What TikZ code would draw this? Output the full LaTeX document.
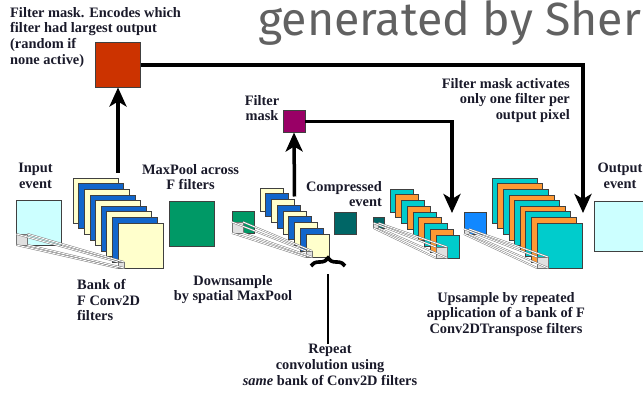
\documentclass[tikz,border=0pt]{standalone}
\usepackage{fontspec}
\newfontfamily\markfont{Fira Sans}
\newfontfamily\lblfont{Liberation Serif}
\usetikzlibrary{positioning,arrows.meta,decorations.pathreplacing}

\definecolor{maskred}{HTML}{CC3300}
\definecolor{maskpurple}{HTML}{990066}
\definecolor{eventcyan}{HTML}{CCFFFF}
\definecolor{filtyellow}{HTML}{FFFFCC}
\definecolor{filtblue}{HTML}{1166CC}
\definecolor{poolgreen}{HTML}{009966}
\definecolor{codeteal}{HTML}{006666}
\definecolor{filtteal}{HTML}{00CCCC}
\definecolor{filtorange}{HTML}{FF9933}
\definecolor{upblue}{HTML}{1188FF}
\definecolor{txtdark}{HTML}{1A1A2A}

\tikzset{
	sq/.style={draw=black!75, line width=0.6pt, minimum size=#1, inner sep=0pt, outer sep=0pt},
	rf/.style={draw=black!55, fill=black!12, line width=0.5pt, minimum size=#1, inner sep=0pt, outer sep=0pt},
	rfline/.style={draw=black!55, double=white, double distance=0.9pt, line width=0.45pt},
	lbl/.style={font=\lblfont\bfseries\fontsize{14.4}{15.8}\selectfont, text=txtdark, inner sep=0pt, align=center},
	bigarrow/.style={line width=3.5pt, -{Stealth[length=19pt,width=17pt,inset=5pt]}},
	moustache/.style={line width=3.6pt, decorate, decoration={brace, amplitude=8pt, aspect=0.5}},
}

\begin{document}
\begin{tikzpicture}[x=1pt, y=-1pt]
	\useasboundingbox (0,0) rectangle (643,393);
	\fill[white] (0,0) rectangle (643,393);
	\clip (0,0) rectangle (643,393);

	\node (mark) at (258,36) [anchor=base west, inner sep=0pt, font=\markfont\fontsize{46.5}{46.5}\selectfont, text=black!62] {generated by Sher};

	% encoder: conv bank, maxpool over filters, spatial maxpool
	\node (mask) at (118,65) [sq=45pt, fill=maskred] {};
	\node (masktxt) at (10,7) [lbl, anchor=north west, align=left] {Filter mask. Encodes which\\filter had largest output\\(random if\\none active)};

	\node (input) at (39,222.5) [sq=45pt, fill=eventcyan] {};
	\node (inputtxt) at (35.5,163) [lbl, anchor=north] {Input\\event};

	\foreach \i/\c in {0/filtyellow,1/filtblue,2/filtyellow,3/filtblue,4/filtyellow,5/filtblue,6/filtyellow,7/filtblue,8/filtyellow}
		\node (bankA-\i) at ({95.5+5.625*\i},{200.5+5.625*\i}) [sq=45pt, fill=\c] {};
	\node (banktxt) at (77,279) [lbl, anchor=north west, align=left] {Bank of\\F Conv2D\\filters};

	\node (rfIn) at (input.south west) [rf=11pt, anchor=south west] {};
	\node (rfA) at (bankA-8.south west) [rf=6pt, anchor=south west] {};
	\foreach \a in {north west,north east,south west,south east}
		\draw[rfline] (rfIn.\a) -- (rfA.\a);

	\node (pool) at (191.5,223.5) [sq=45pt, fill=poolgreen] {};
	\node (pooltxt) at (190.5,164) [lbl, anchor=north] {MaxPool across\\F filters};

	\node (down) at (243,222) [sq=22pt, fill=poolgreen] {};
	\node (downtxt) at (233,275) [lbl, anchor=north] {Downsample\\by spatial MaxPool};

	\foreach \i/\c in {0/filtyellow,1/filtblue,2/filtyellow,3/filtblue,4/filtyellow,5/filtblue,6/filtyellow,7/filtblue,8/filtyellow}
		\node (bankB-\i) at ({271.5+5.75*\i},{199.5+5.75*\i}) [sq=23pt, fill=\c] {};
	\node (rfDown) at (down.south west) [rf=11pt, anchor=south west] {};
	\node (rfB) at (bankB-8.south west) [rf=6pt, anchor=south west] {};
	\foreach \a in {north west,north east,south west,south east}
		\draw[rfline] (rfDown.\a) -- (rfB.\a);

	\node (fmask) at (294,121.5) [sq=22pt, fill=maskpurple] {};
	\node (fmasktxt) at (262,95) [lbl, anchor=north] {Filter\\mask};

	\node (code) at (345,223) [sq=22pt, fill=codeteal] {};
	\node (codetxt) at (382,181) [lbl, anchor=north east, align=right] {Compressed\\event};

	% decoder: transpose conv banks
	\node (codein) at (379,222.5) [sq=11pt, fill=codeteal] {};
	\foreach \i/\c in {0/filtteal,1/filtorange,2/filtteal,3/filtorange,4/filtteal,5/filtorange,6/filtteal,7/filtorange,8/filtteal}
		\node (bankC-\i) at ({401.5+5.75*\i},{200.5+5.75*\i}) [sq=23pt, fill=\c] {};
	\node (rfCode) at (codein.south west) [rf=5pt, anchor=south west] {};
	\node (rfC) at (bankC-8.south west) [rf=11pt, anchor=south west] {};
	\foreach \a in {north west,north east,south west,south east}
		\draw[rfline] (rfCode.\a) -- (rfC.\a);

	\node (up) at (475,223) [sq=22pt, fill=upblue] {};
	\foreach \i/\c in {0/filtteal,1/filtorange,2/filtteal,3/filtorange,4/filtteal,5/filtorange,6/filtteal,7/filtorange,8/filtteal}
		\node (bankD-\i) at ({514.5+5.625*\i},{200.5+5.625*\i}) [sq=45pt, fill=\c] {};
	\node (rfUp) at (up.south west) [rf=5pt, anchor=south west] {};
	\node (rfD) at (bankD-8.south west) [rf=11pt, anchor=south west] {};
	\foreach \a in {north west,north east,south west,south east}
		\draw[rfline] (rfUp.\a) -- (rfD.\a);

	\node (output) at (619,226) [sq=50pt, fill=eventcyan] {};
	\node (outtxt) at (620,163) [lbl, anchor=north] {Output\\event};

	\node (acttxt) at (570,78) [lbl, anchor=north east, align=right] {Filter mask activates\\only one filter per\\output pixel};
	\node (uptxt) at (506,292) [lbl, anchor=north] {Upsample by repeated\\application of a bank of F\\Conv2DTranspose filters};
	\node (repeattxt) at (330,344) [lbl, anchor=north] {Repeat\\convolution using\\\emph{same} bank of Conv2D filters};

	% mask paths
	\coordinate (upA) at (452,213);
	\coordinate (upB) at (583,213);
	\draw[bigarrow] ([yshift=5pt]bankA-0.north east) -- (mask.south);
	\draw[bigarrow] ([yshift=3pt]bankB-2.north east) -- (fmask.south);
	\draw[bigarrow] (fmask.east) -| (upA);
	\draw[bigarrow] (mask.east) -| (upB);

	\draw[moustache] (311,266) -- coordinate[pos=0.5, yshift=-8pt] (braceTip) (345,266);
	\draw[line width=2.2pt] (braceTip) -- (braceTip |- repeattxt.north);
\end{tikzpicture}
\end{document}
